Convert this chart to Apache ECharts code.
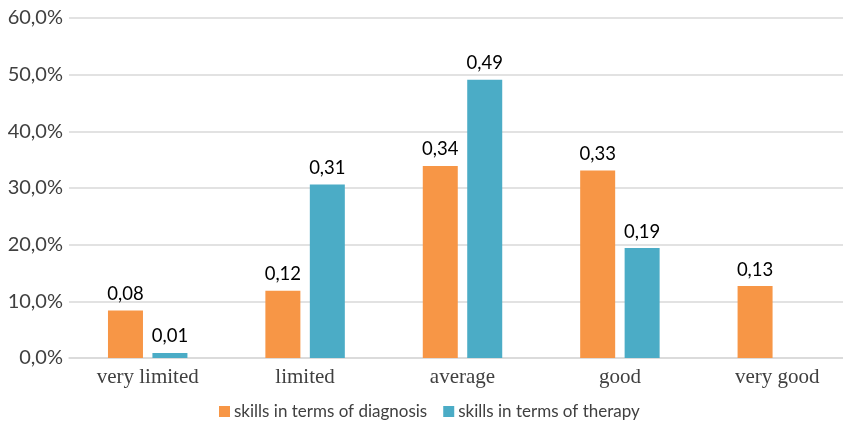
<!DOCTYPE html>
<html>
<head>
<meta charset="utf-8">
<script src="https://cdn.jsdelivr.net/npm/echarts@6/dist/echarts.min.js"></script>
<style>
  html, body { margin: 0; padding: 0; background: #fff; overflow: hidden; }
  /* the source chart is cropped on the right, so the canvas is a bit wider than the window */
  #chart { width: 870px; height: 422px; }
</style>
</head>
<body>
<div id="chart"></div>
<script>
var categories = ['very limited', 'limited', 'average', 'good', 'very good'];
var diagnosis = [0.084, 0.1185, 0.339, 0.331, 0.127];
var therapy = [0.009, 0.306, 0.491, 0.194, 0];
var seriesNames = ['skills in terms of diagnosis', 'skills in terms of therapy'];

var chart = echarts.init(document.getElementById('chart'));

function labelFmt(p) {
  if (!p.value) return '';
  return p.value.toFixed(2).replace('.', ',');
}

var barLabel = {
  show: true,
  position: 'top',
  distance: 7,
  fontFamily: 'Lato',
  fontSize: 18.5,
  color: '#000',
  formatter: labelFmt
};

var option = {
  animation: false,
  grid: {
    left: 69,
    top: 18,
    width: 787,
    height: 340
  },
  legend: {
    data: seriesNames,
    left: 214,
    top: 398,
    itemWidth: 11,
    itemHeight: 11,
    itemGap: 16,
    icon: 'rect',
    textStyle: { fontFamily: 'Lato', fontSize: 17, color: '#404040', padding: [0, 0, 0, -1] }
  },
  xAxis: {
    type: 'category',
    data: categories,
    axisLine: { lineStyle: { color: '#d9d9d9', width: 1.5 } },
    axisTick: { show: false },
    axisLabel: {
      fontFamily: 'Liberation Serif',
      fontSize: 21,
      color: '#404040',
      margin: 9
    }
  },
  yAxis: {
    type: 'value',
    min: 0,
    max: 0.6,
    interval: 0.1,
    axisLine: { show: false },
    axisTick: { show: false },
    splitLine: { lineStyle: { color: '#d9d9d9', width: 1.5 } },
    axisLabel: {
      fontFamily: 'Lato',
      fontSize: 20,
      color: '#404040',
      margin: 6,
      formatter: function (v) {
        return (v * 100).toFixed(1).replace('.', ',') + '%';
      }
    }
  },
  series: [
    {
      name: seriesNames[0],
      type: 'bar',
      data: diagnosis,
      barWidth: 35,
      barGap: '27%',
      itemStyle: { color: '#F79646' },
      label: barLabel
    },
    {
      name: seriesNames[1],
      type: 'bar',
      data: therapy,
      barWidth: 35,
      barGap: '27%',
      itemStyle: { color: '#4BACC6' },
      label: barLabel
    }
  ]
};

chart.setOption(option);
</script>
</body>
</html>
